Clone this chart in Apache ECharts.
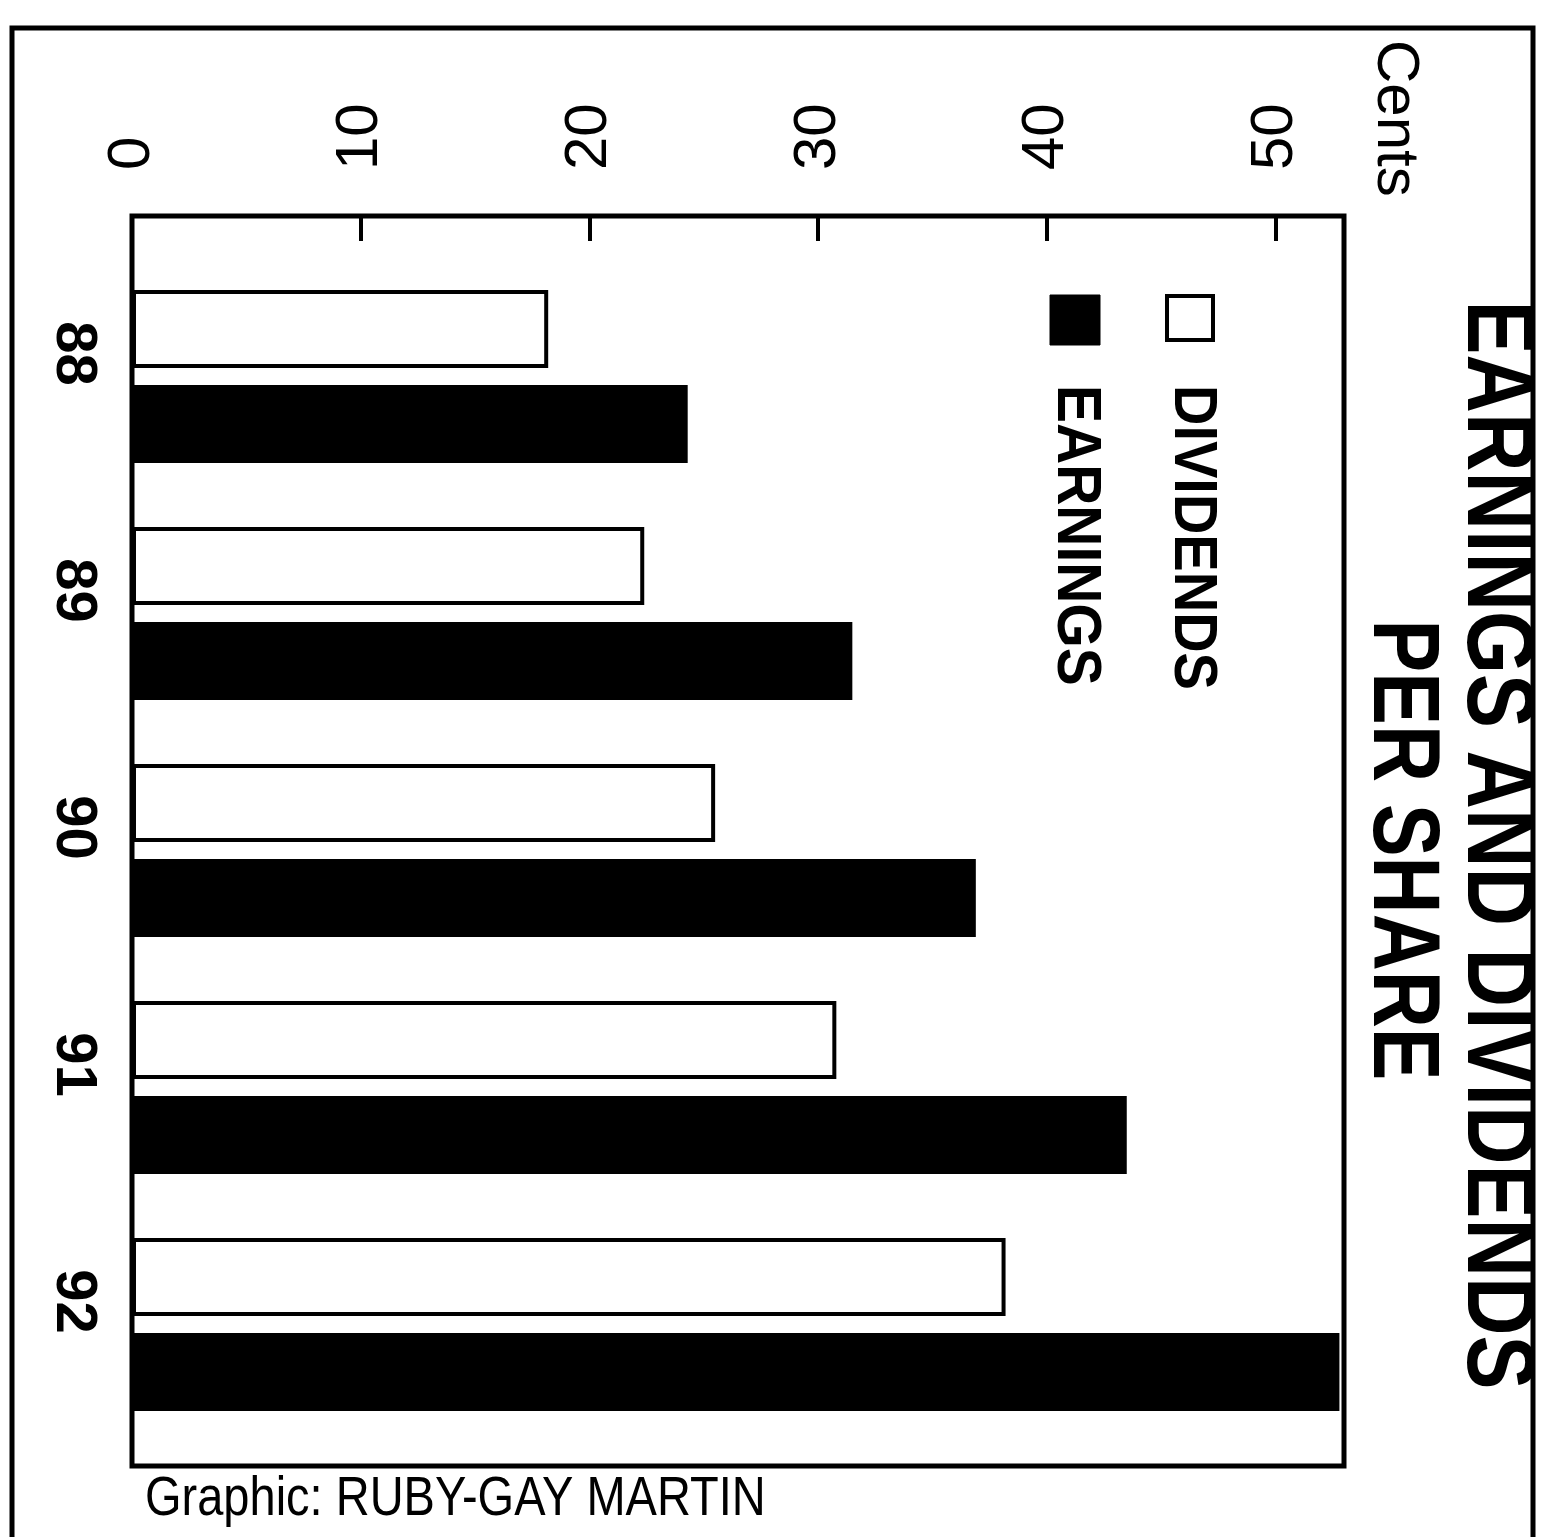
<!DOCTYPE html>
<html>
<head>
<meta charset="utf-8">
<script src="https://cdn.jsdelivr.net/npm/echarts@6/dist/echarts.min.js"></script>
<style>
html,body{margin:0;padding:0;background:#fff;}
#chart{width:1550px;height:1537px;}
</style>
</head>
<body>
<div id="chart"></div>
<script>
const categories = ['88', '89', '90', '91', '92'];
const dividends = [18.2, 22.4, 25.5, 30.8, 38.2];
const earnings = [24.3, 31.5, 36.9, 43.5, 52.8];
const valueTicks = [0, 10, 20, 30, 40, 50];
const titleLines = ['EARNINGS AND DIVIDENDS', 'PER SHARE'];
const unitLabel = 'Cents';
const creditText = 'Graphic: RUBY-GAY MARTIN';
const seriesNames = ['DIVIDENDS', 'EARNINGS'];

const FONT = '"Liberation Sans", Arial, Helvetica, sans-serif';
const chart = echarts.init(document.getElementById('chart'));

const option = {
  backgroundColor: '#ffffff',
  animation: false,
  grid: { left: 132, top: 258, width: 1212, height: 1185, containLabel: false },
  xAxis: {
    type: 'value',
    position: 'top',
    offset: 42,
    min: 0,
    max: 53,
    interval: 10,
    splitLine: { show: false },
    axisLine: { show: false },
    axisTick: { show: true, inside: true, length: 25, lineStyle: { color: '#000', width: 4 } },
    axisLabel: {
      rotate: -90,
      margin: 46,
      fontSize: 60,
      fontFamily: FONT,
      color: '#000',
      showMaxLabel: false,
      formatter: function (v) { return valueTicks.indexOf(v) >= 0 ? String(v) : ''; }
    }
  },
  yAxis: {
    type: 'category',
    inverse: true,
    data: categories,
    axisLine: { show: false },
    axisTick: { show: false },
    axisLabel: {
      rotate: -90,
      margin: 30,
      fontSize: 58,
      fontWeight: 'bold',
      fontFamily: FONT,
      color: '#000',
      padding: [0, 46, 0, 0]
    }
  },
  series: [
    {
      name: seriesNames[0],
      type: 'bar',
      data: dividends,
      barWidth: 78,
      barGap: '22%',
      itemStyle: { color: '#ffffff', borderColor: '#000', borderWidth: 4 }
    },
    {
      name: seriesNames[1],
      type: 'bar',
      data: earnings,
      barWidth: 78,
      itemStyle: { color: '#000000', borderColor: '#000', borderWidth: 2 }
    }
  ],
  graphic: [
    // outer frame
    { type: 'rect', silent: true, shape: { x: 12, y: 28, width: 1521, height: 1560 },
      style: { fill: 'none', stroke: '#000', lineWidth: 5 } },
    // plot frame
    { type: 'rect', silent: true, shape: { x: 132, y: 216, width: 1212, height: 1250 },
      style: { fill: 'none', stroke: '#000', lineWidth: 5 } },
    // unit label
    { type: 'text', silent: true, x: 1395, y: 40, rotation: -Math.PI / 2,
      style: { text: unitLabel, x: 0, y: 0, align: 'left', verticalAlign: 'middle',
        fontSize: 60, fontFamily: FONT, fill: '#000' } },
    // title
    { type: 'text', silent: true, x: 1495, y: 845, rotation: -Math.PI / 2, scaleY: 1.2,
      style: { text: titleLines[0], x: 0, y: 0, align: 'center', verticalAlign: 'middle',
        fontSize: 81, fontWeight: 'bold', fontFamily: FONT, fill: '#000' } },
    { type: 'text', silent: true, x: 1400, y: 850, rotation: -Math.PI / 2, scaleY: 1.2,
      style: { text: titleLines[1], x: 0, y: 0, align: 'center', verticalAlign: 'middle',
        fontSize: 79, fontWeight: 'bold', fontFamily: FONT, fill: '#000' } },
    // legend
    { type: 'rect', silent: true, shape: { x: 1167, y: 296, width: 46, height: 44 },
      style: { fill: '#fff', stroke: '#000', lineWidth: 4 } },
    { type: 'text', silent: true, x: 1192, y: 385, rotation: -Math.PI / 2, scaleY: 1.1,
      style: { text: seriesNames[0], x: 0, y: 0, align: 'left', verticalAlign: 'middle',
        fontSize: 56, fontWeight: 'bold', fontFamily: FONT, fill: '#000' } },
    { type: 'rect', silent: true, shape: { x: 1050, y: 295, width: 50, height: 50 },
      style: { fill: '#000', stroke: '#000', lineWidth: 1 } },
    { type: 'text', silent: true, x: 1075, y: 385, rotation: -Math.PI / 2, scaleY: 1.1,
      style: { text: seriesNames[1], x: 0, y: 0, align: 'left', verticalAlign: 'middle',
        fontSize: 57, fontWeight: 'bold', fontFamily: FONT, fill: '#000' } },
    // credit
    { type: 'text', silent: true, x: 145, y: 1528, scaleY: 1.2,
      style: { text: creditText, x: 0, y: 0, align: 'left', verticalAlign: 'bottom',
        fontSize: 47, fontFamily: FONT, fill: '#000' } }
  ]
};
chart.setOption(option);
</script>
</body>
</html>
